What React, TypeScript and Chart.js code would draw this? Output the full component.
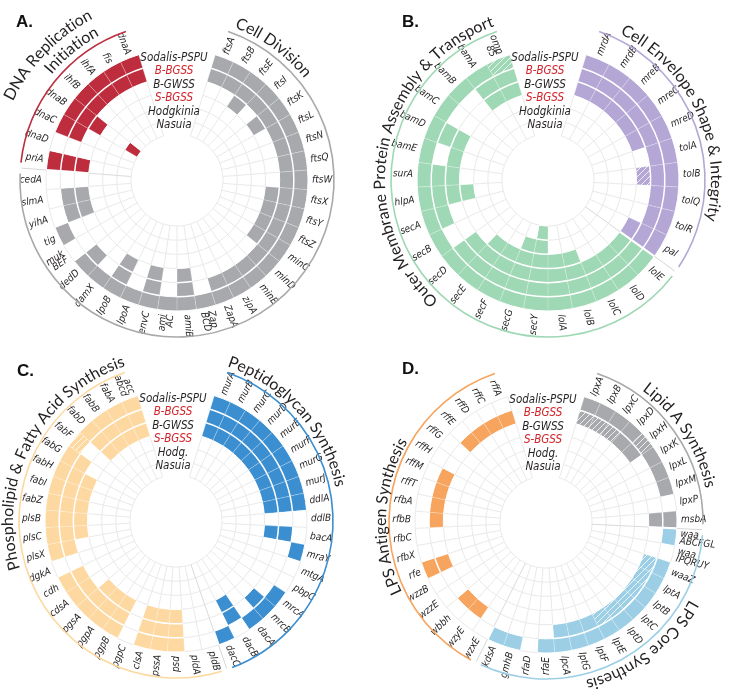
import React, { useEffect, useRef } from 'react';
import { Chart, registerables } from 'chart.js';
Chart.register(...registerables);

// ---------- data ----------
const speciesFull = ['Sodalis-PSPU', 'B-BGSS', 'B-GWSS', 'S-BGSS', 'Hodgkinia', 'Nasuia'];
const speciesShort = ['Sodalis-PSPU', 'B-BGSS', 'B-GWSS', 'S-BGSS', 'Hodg.', 'Nasuia'];
const speciesRed = [false, true, false, true, false, false];

// Panel A: genes clockwise from the top gap
const genesA = ['ftsA','ftsB','ftsE','ftsI','ftsK','ftsL','ftsN','ftsQ','ftsW','ftsX','ftsY','ftsZ','minC','minD','minE','zipA','ZapA','Zap|BCD','amiB','ami|AC','envC','lpoA','lpoB','damX','dedD','muk|BEF','tig','yihA','slmA','cedA','priA','dnaD','dnaC','dnaB','ihfB','ihfA','fis','dnaA'];
// rings, outer (Sodalis-PSPU) to inner (Nasuia); 1 = present, h = hatched (pseudogene), 0 = absent
const ringsA = [
  '1111111111111111111111111' + '01000' + '10111111',
  '11111111111111111' + '010101010' + '0' + '11' + '0' + '1' + '0' + '111111',
  '00101' + '0000' + '1111' + '00000' + '10101' + '0000' + '110' + '10010000',
  '00000000000000000000000000000000000000',
  '00000000000000000000000000000000000000',
  '00000000000000000000000000000000010000',
];
const groupSizesA = [30, 8];
const groupTitlesA = [['Cell Division'], ['DNA Replication', 'Initiation']];
const groupColorsA = ['#a7a9ac', '#bd2d3d'];

const genesB = ['mrdA','mrdB','mreB','mreC','mreD','tolA','tolB','tolQ','tolR','pal','lolE','lolD','lolC','lolB','lolA','secY','secG','secF','secE','secD','secB','secA','hlpA','surA','bamE','bamD','bamC','bamB','bamA','omp|85'];
const ringsB = [
  '11111111111111111111111111111h',
  '111111111111111111110111010011',
  '111110h0011111111111001111001110'.slice(0, 30),
  '000000000000011111100010000000',
  '000000000000000110000000000000',
  '000000000000000100000000000000',
];
const groupSizesB = [10, 20];
const groupTitlesB = [['Cell Envelope Shape & Integrity'], ['Outer Membrane Protein Assembly & Transport']];
const groupColorsB = ['#b4a7d6', '#9fd8b4'];

const genesC = ['murA','murB','murC','murD','murE','murF','murG','murJ','ddlA','ddlB','bacA','mraY','mtgA','pbpC','mrcA','mrcB','dacA','dacB','dacC','pldB','pldA','psd','pssA','clsA','pgpC','pgpB','pgpA','pgsA','cdsA','cdh','dgkA','plsX','plsC','plsB','fabZ','fabI','fabH','fabG','fabF','fabD','fabB','fabA','acc|abcd'];
const ringsC = [
  '1111111110010011101' + '001110111110' + '1111111h1111',
  '1111111110100001010' + '001110111110' + '111111101111',
  '1111111110100000010' + '001110111000' + '011111001111',
  '0000000000000000000' + '000000000000' + '000000000000',
  '0000000000000000000' + '000000000000' + '000000000000',
  '0000000000000000000' + '000000000000' + '000000000000',
];
const groupSizesC = [19, 24];
const groupTitlesC = [['Peptidoglycan Synthesis'], ['Phospholipid & Fatty Acid Synthesis']];
const groupColorsC = ['#3b8fd1', '#fdd8a0'];

const genesD = ['lpxA','lpxB','lpxC','lpxD','lpxH','lpxK','lpxL','lpxM','lpxP','msbA','waa|ABCFGL','waa|IPQRUY','waaZ','lptA','lptB','lptC','lptD','lptE','lptF','lptG','lpcA','rfaE','rfaD','gmhB','kdsA','wzxE','wzyE','wbbh','wzzE','wzzB','rfe','rfbX','rfbC','rfbB','rfbA','rffT','rffM','rffH','rffG','rffE','rffD','rffC','rffA'];
const ringsD = [
  '1111h11101' + '101111111111011' + '000001000000000000',
  'hhh1100001' + '00hhhhhh1110000' + '011001001111001111',
  '0000000000' + '000000000000000' + '000000000000000000',
  '0000000000' + '000000000000000' + '000000000000000000',
  '0000000000' + '000000000000000' + '000000000000000000',
  '0000000000' + '000000000000000' + '000000000000000000',
];
const groupSizesD = [10, 15, 18];
const groupTitlesD = [['Lipid A Synthesis'], ['LPS Core Synthesis'], ['LPS Antigen Synthesis']];
const groupColorsD = ['#a7a9ac', '#9ccfe6', '#f6a45e'];

// ---------- layout (positions / styles only) ----------
type PanelCfg = {
  letter: string; genes: string[]; rings: string[]; sizes: number[]; titles: string[][]; colors: string[];
  species: string[]; cx: number; cy: number; letterX: number; letterY: number;
  titleAngles: number[][]; titleRadii: number[][];
};

const panels: PanelCfg[] = [
  { letter: 'A.', genes: genesA, rings: ringsA, sizes: groupSizesA, titles: groupTitlesA, colors: groupColorsA, species: speciesFull,
    cx: 177, cy: 180, letterX: 16, letterY: 27, titleAngles: [[36], [314, 321]], titleRadii: [[163], [182, 164]] },
  { letter: 'B.', genes: genesB, rings: ringsB, sizes: groupSizesB, titles: groupTitlesB, colors: groupColorsB, species: speciesFull,
    cx: 178, cy: 180, letterX: 32, letterY: 27, titleAngles: [[65], [281]], titleRadii: [[163], [163]] },
  { letter: 'C.', genes: genesC, rings: ringsC, sizes: groupSizesC, titles: groupTitlesC, colors: groupColorsC, species: speciesShort,
    cx: 176, cy: 175, letterX: 17, letterY: 30, titleAngles: [[48], [297]], titleRadii: [[163], [163]] },
  { letter: 'D.', genes: genesD, rings: ringsD, sizes: groupSizesD, titles: groupTitlesD, colors: groupColorsD, species: speciesShort,
    cx: 176, cy: 176, letterX: 32, letterY: 28, titleAngles: [[57], [142], [272]], titleRadii: [[163], [163], [160]] },
];

const W = 370, H = 346;
const R_OUT = 131, R_IN = 46;
const GAP = 34; // degrees of empty gap at top
const START = GAP / 2;

const LABEL_FONT = 'italic 10px "Liberation Sans Narrow", "DejaVu Sans Condensed", sans-serif';
const LEGEND_FONT = 'italic 11.5px "Liberation Sans Narrow", "DejaVu Sans Condensed", sans-serif';
const TITLE_FONT = '16px Lato, "Open Sans", sans-serif';

function hatch(color: string): CanvasPattern | string {
  const c = document.createElement('canvas');
  c.width = 6; c.height = 6;
  const g = c.getContext('2d');
  if (!g) return color;
  g.fillStyle = color; g.fillRect(0, 0, 6, 6);
  g.strokeStyle = 'rgba(255,255,255,0.8)'; g.lineWidth = 1;
  g.beginPath();
  g.moveTo(0, 6); g.lineTo(6, 0);
  g.moveTo(-3, 3); g.lineTo(3, -3);
  g.moveTo(3, 9); g.lineTo(9, 3);
  g.stroke();
  const p = g.createPattern(c, 'repeat');
  return p || color;
}

function groupOf(sizes: number[], gi: number) {
  let s = 0;
  for (let k = 0; k < sizes.length; k++) { s += sizes[k]; if (gi < s) return k; }
  return sizes.length - 1;
}

function drawArcText(ctx: CanvasRenderingContext2D, text: string, cx: number, cy: number, r: number, centerDeg: number) {
  ctx.save();
  ctx.font = TITLE_FONT;
  ctx.fillStyle = '#231f20';
  ctx.textAlign = 'center';
  ctx.textBaseline = 'alphabetic';
  const total = ctx.measureText(text).width;
  let a = centerDeg * Math.PI / 180 - total / (2 * r);
  for (const ch of text) {
    const w = ctx.measureText(ch).width;
    const ang = a + w / (2 * r);
    ctx.save();
    ctx.translate(cx + r * Math.sin(ang), cy - r * Math.cos(ang));
    ctx.rotate(ang);
    ctx.fillText(ch, 0, 0);
    ctx.restore();
    a += w / r;
  }
  ctx.restore();
}

function Panel({ cfg, left, top }: { cfg: PanelCfg; left: number; top: number }) {
  const ref = useRef<HTMLCanvasElement>(null);
  useEffect(() => {
    const canvas = ref.current;
    if (!canvas) return;
    const n = cfg.genes.length;
    const slot = (360 - GAP) / n;
    const cell = (ri: number, gi: number) => (cfg.rings[ri] && cfg.rings[ri][gi]) || '0';
    const isFilled = (ri: number, gi: number) => ri >= 0 && ri < 6 && gi >= 0 && gi < n && cell(ri, gi) !== '0';
    const patterns = cfg.colors.map((c) => hatch(c));

    const datasets = cfg.rings.map((_, ri) => {
      const colors: (string | CanvasPattern)[] = ['rgba(0,0,0,0)'];
      const data: number[] = [GAP];
      cfg.genes.forEach((__, gi) => {
        const g = groupOf(cfg.sizes, gi);
        const v = cell(ri, gi);
        data.push(slot);
        colors.push(v === '1' ? cfg.colors[g] : v === 'h' ? patterns[g] : '#ffffff');
      });
      return { data, backgroundColor: colors, borderWidth: 0, hoverOffset: 0 } as any;
    });

    const boundaries: number[] = [0];
    let acc = 0;
    cfg.sizes.forEach((s) => { acc += s; boundaries.push(acc); });

    const decor = {
      id: 'decor',
      afterDatasetsDraw(chart: any) {
        const ctx: CanvasRenderingContext2D = chart.ctx;
        const el = chart.getDatasetMeta(0).data[1];
        const cx = el.x, cy = el.y;
        const t = (R_OUT - R_IN) / 6;
        const phi = (k: number) => START + k * slot;
        const pt = (r: number, deg: number) => {
          const a = deg * Math.PI / 180;
          return [cx + r * Math.sin(a), cy - r * Math.cos(a)];
        };
        const arcRad = (deg: number) => (deg - 90) * Math.PI / 180;
        ctx.save();
        ctx.lineCap = 'butt';
        // ring circles
        for (let j = 0; j <= 6; j++) {
          const r = R_OUT - j * t;
          for (let gi = 0; gi < n; gi++) {
            const f = isFilled(j - 1, gi) || isFilled(j, gi);
            const both = isFilled(j - 1, gi) && isFilled(j, gi);
            ctx.beginPath();
            ctx.strokeStyle = f ? '#ffffff' : '#e9e9e9';
            ctx.lineWidth = both ? 1.5 : 1;
            ctx.arc(cx, cy, r, arcRad(phi(gi)), arcRad(phi(gi + 1)));
            ctx.stroke();
          }
        }
        // radial lines
        for (let k = 0; k <= n; k++) {
          const isGroup = boundaries.includes(k) && k > 0 && k < n;
          for (let ri = 0; ri < 6; ri++) {
            const r1 = R_OUT - ri * t, r2 = r1 - t;
            const f = isFilled(ri, k - 1) || isFilled(ri, k);
            const [x1, y1] = pt(r1, phi(k));
            const [x2, y2] = pt(r2, phi(k));
            ctx.beginPath();
            ctx.moveTo(x1, y1); ctx.lineTo(x2, y2);
            if (isGroup) {
              ctx.strokeStyle = f ? '#ffffff' : '#dadada';
              ctx.lineWidth = f ? 2.2 : 1;
            } else {
              ctx.strokeStyle = f ? 'rgba(255,255,255,0.3)' : '#e9e9e9';
              ctx.lineWidth = 1;
            }
            ctx.stroke();
          }
          if (isGroup) {
            const [x1, y1] = pt(R_OUT, phi(k));
            const [x2, y2] = pt(R_OUT + 25, phi(k));
            ctx.beginPath(); ctx.moveTo(x1, y1); ctx.lineTo(x2, y2);
            ctx.strokeStyle = '#d6d6d6'; ctx.lineWidth = 1; ctx.stroke();
          }
        }
        // gene labels
        ctx.font = LABEL_FONT;
        ctx.fillStyle = '#231f20';
        ctx.textBaseline = 'middle';
        cfg.genes.forEach((g, gi) => {
          const deg = phi(gi + 0.5);
          const a = deg * Math.PI / 180;
          const [x, y] = pt(R_OUT + 4, deg);
          ctx.save();
          ctx.translate(x, y);
          if (deg < 180) { ctx.rotate(a - Math.PI / 2); ctx.textAlign = 'left'; }
          else { ctx.rotate(a - 3 * Math.PI / 2); ctx.textAlign = 'right'; }
          const parts = g.split('|');
          parts.forEach((p, i) => ctx.fillText(p, 0, (i - (parts.length - 1) / 2) * 7.5));
          ctx.restore();
        });
        // group arcs + titles
        cfg.sizes.forEach((s, k) => {
          const a0 = phi(boundaries[k]) + 2, a1 = phi(boundaries[k + 1]) - 2;
          ctx.beginPath();
          ctx.strokeStyle = cfg.colors[k];
          ctx.lineWidth = 1.6;
          ctx.arc(cx, cy, R_OUT + 26, arcRad(a0), arcRad(a1));
          ctx.stroke();
          cfg.titles[k].forEach((line, li) => {
            drawArcText(ctx, line, cx, cy, cfg.titleRadii[k][li], cfg.titleAngles[k][li]);
          });
        });
        // legend
        ctx.font = LEGEND_FONT;
        ctx.textAlign = 'center';
        ctx.textBaseline = 'middle';
        cfg.species.forEach((s, i) => {
          ctx.fillStyle = speciesRed[i] ? '#d2232a' : '#231f20';
          ctx.fillText(s, cx - 3, cy - 122 + i * 13.4);
        });
        // panel letter
        ctx.font = 'bold 17px "Liberation Sans", Arial, sans-serif';
        ctx.fillStyle = '#111';
        ctx.textAlign = 'left';
        ctx.textBaseline = 'alphabetic';
        ctx.fillText(cfg.letter, cfg.letterX, cfg.letterY);
        ctx.restore();
      },
    };

    const dx = cfg.cx - W / 2, dy = cfg.cy - H / 2;
    const chart = new Chart(canvas, {
      type: 'doughnut',
      data: { labels: ['gap', ...cfg.genes], datasets },
      options: {
        responsive: false,
        animation: false,
        events: [],
        rotation: -START,
        circumference: 360,
        radius: R_OUT,
        cutout: (R_IN / R_OUT * 100).toFixed(3) + '%',
        layout: {
          padding: {
            left: Math.max(0, 2 * dx), right: Math.max(0, -2 * dx),
            top: Math.max(0, 2 * dy), bottom: Math.max(0, -2 * dy),
          },
        },
        plugins: { legend: { display: false }, tooltip: { enabled: false } },
      } as any,
      plugins: [decor],
    });
    return () => chart.destroy();
  }, [cfg]);
  return <canvas ref={ref} width={W} height={H} style={{ position: 'absolute', left, top, width: W, height: H }} />;
}

export default function App() {
  useEffect(() => { document.body.style.margin = '0'; }, []);
  return (
    <div style={{ position: 'absolute', left: 0, top: 0, width: 740, height: 692, background: '#fff' }}>
      {panels.map((p, i) => (
        <Panel key={i} cfg={p} left={(i % 2) * W} top={Math.floor(i / 2) * H} />
      ))}
    </div>
  );
}
